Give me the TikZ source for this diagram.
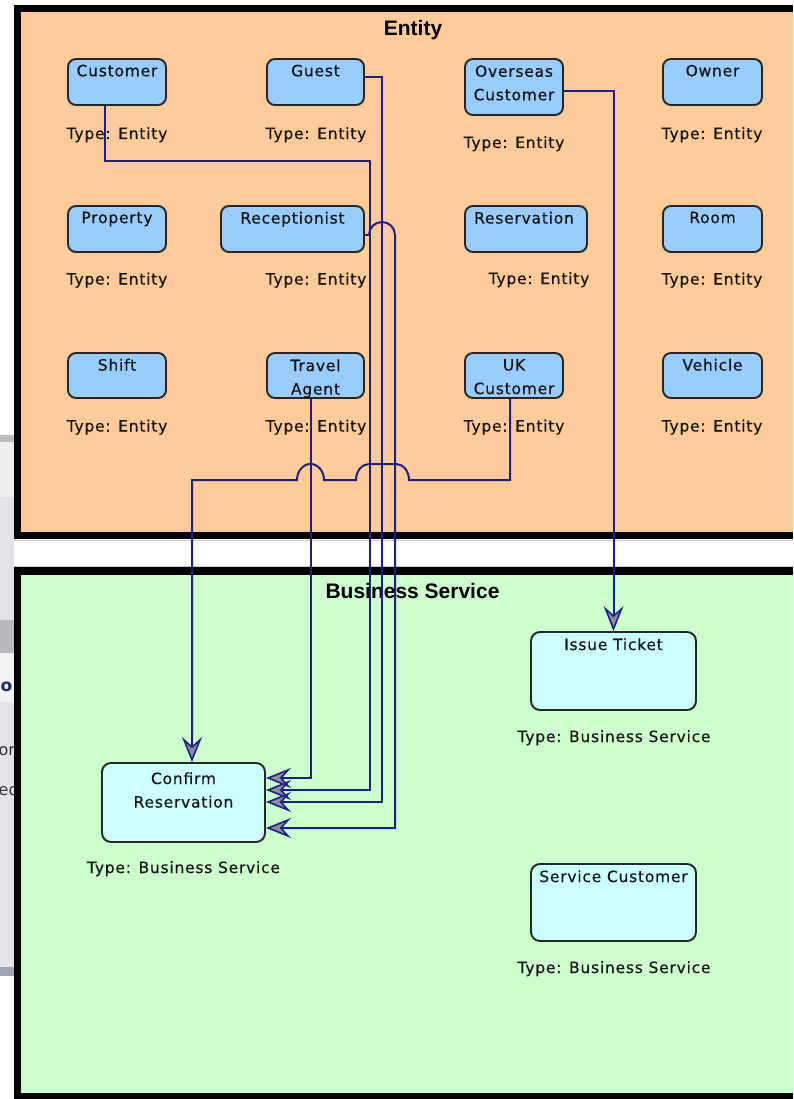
\documentclass[tikz,border=0pt]{standalone}
\usepackage{fontspec}
\setmainfont{DejaVu Sans}
\newfontfamily\lblfont[LetterSpace=5,FakeBold=0.4]{DejaVu Sans}
\newfontfamily\ttlfont{Liberation Sans}
\newfontfamily\uifont{DejaVu Sans}
\usetikzlibrary{arrows.meta,calc}

\definecolor{entfill}{HTML}{FFCC99}
\definecolor{bsfill}{HTML}{CCFFCC}
\definecolor{eboxfill}{HTML}{99CCFF}
\definecolor{sboxfill}{HTML}{CCFFFF}
\definecolor{navy}{HTML}{1E1E88}
\definecolor{arrgray}{HTML}{8C8C9C}
\definecolor{boxline}{HTML}{262626}
\definecolor{txt}{HTML}{141414}
\definecolor{uiA}{HTML}{BDBDBD}
\definecolor{uiB}{HTML}{EFEFEF}
\definecolor{uiC}{HTML}{E1E3E8}
\definecolor{uiD}{HTML}{B7B9BF}
\definecolor{uiE}{HTML}{F2F2F2}
\definecolor{uiF}{HTML}{E3E5EA}
\definecolor{uiG}{HTML}{9EA4B4}
\definecolor{uitext}{HTML}{1B2A6B}

\begin{document}
\begin{tikzpicture}[x=1pt,y=-1pt,
  ebox/.style={draw=boxline,line width=1.9pt,rounded corners=8pt,fill=eboxfill,inner sep=0pt},
  sbox/.style={draw=boxline,line width=1.9pt,rounded corners=9pt,fill=sboxfill,inner sep=0pt},
  btxt/.style={font=\lblfont\fontsize{15.5}{23.5}\selectfont,text=txt,inner sep=0pt,align=center,anchor=north},
  tlbl/.style={font=\lblfont\fontsize{15.5}{23.5}\selectfont,text=txt,inner sep=0pt,anchor=base},
  ttl/.style={font=\ttlfont\bfseries\fontsize{21}{24}\selectfont,text=black,inner sep=0pt,anchor=base},
  conn/.style={draw=navy,line width=2pt},
  arr/.style={-{Stealth[length=25pt,width=20pt,inset=9pt,fill=arrgray,line width=1.6pt]}}
]
\useasboundingbox (0,0) rectangle (793,1099);
\fill[white] (0,0) rectangle (793,1099);

% left strip (background window)
\fill[uiA] (0,435) rectangle (14,442);
\fill[uiB] (0,442) rectangle (14,497);
\fill[uiC] (0,497) rectangle (14,620);
\fill[uiD] (0,620) rectangle (14,653);
\fill[uiE] (0,653) rectangle (14,702);
\fill[uiF] (0,702) rectangle (14,967);
\fill[uiG] (0,967) rectangle (14,976);
\begin{scope}
\clip (0,0) rectangle (14,1099);
\node[font=\uifont\bfseries\fontsize{17}{20}\selectfont,text=uitext,inner sep=0pt,anchor=east] (uio) at (12.5,687) {o};
\node[font=\uifont\fontsize{16}{20}\selectfont,text=black!80,inner sep=0pt,anchor=west] (uior) at (-1.5,751) {or};
\node[font=\uifont\fontsize{16}{20}\selectfont,text=black!80,inner sep=0pt,anchor=west] (uied) at (-1.5,790) {ed};
\end{scope}

% frames
\fill[black] (14,5) rectangle (793,539);
\fill[entfill] (21,12) rectangle (793,532);
\fill[black] (14,567) rectangle (793,1099);
\fill[bsfill] (21,575) rectangle (793,1093);
\draw[black!20,line width=1pt] (14,540) -- (793,540);
\draw[black!20,line width=1pt] (14,566) -- (793,566);

\node[ttl] (enttitle) at (413,36) {Entity};
\node[ttl] (bstitle) at (412.5,598) {Business Service};

% entity boxes
\node[ebox,minimum width=98pt,minimum height=46pt] (cust) at (117,82) {};
\node[ebox,minimum width=97pt,minimum height=46pt] (guest) at (315.5,82) {};
\node[ebox,minimum width=98pt,minimum height=56pt] (over) at (514,87) {};
\node[ebox,minimum width=99pt,minimum height=46pt] (owner) at (712.5,82) {};
\node[ebox,minimum width=98pt,minimum height=46pt] (prop) at (117,229) {};
\node[ebox,minimum width=143pt,minimum height=46pt] (recep) at (292.5,229) {};
\node[ebox,minimum width=122pt,minimum height=46pt] (resv) at (526,229) {};
\node[ebox,minimum width=99pt,minimum height=46pt] (room) at (712.5,229) {};
\node[ebox,minimum width=98pt,minimum height=45pt] (shift) at (117,375.5) {};
\node[ebox,minimum width=97pt,minimum height=45pt] (trav) at (315.5,375.5) {};
\node[ebox,minimum width=98pt,minimum height=45pt] (uk) at (514,375.5) {};
\node[ebox,minimum width=99pt,minimum height=45pt] (veh) at (712.5,375.5) {};

\node[btxt] (custT) at ($(cust.north)+(0,6.5)$) {Customer};
\node[btxt] (guestT) at ($(guest.north)+(0,6.5)$) {Guest};
\node[btxt] (overT) at ($(over.north)+(0,7)$) {Overseas\\Customer};
\node[btxt] (ownerT) at ($(owner.north)+(0,6.5)$) {Owner};
\node[btxt] (propT) at ($(prop.north)+(0,6.5)$) {Property};
\node[btxt] (recepT) at ($(recep.north)+(0,6.5)$) {Receptionist};
\node[btxt] (resvT) at ($(resv.north)+(-2,6.5)$) {Reservation};
\node[btxt] (roomT) at ($(room.north)+(0,6.5)$) {Room};
\node[btxt] (shiftT) at ($(shift.north)+(0,6.5)$) {Shift};
\node[btxt] (travT) at ($(trav.north)+(0,7)$) {Travel\\Agent};
\node[btxt] (ukT) at ($(uk.north)+(0,7)$) {UK\\Customer};
\node[btxt] (vehT) at ($(veh.north)+(0,6.5)$) {Vehicle};

\node[tlbl] (custL) at (117,139) {Type: Entity};
\node[tlbl] (guestL) at (316,139) {Type: Entity};
\node[tlbl] (overL) at (514,148) {Type: Entity};
\node[tlbl] (ownerL) at (712,139) {Type: Entity};
\node[tlbl] (propL) at (117,284.5) {Type: Entity};
\node[tlbl] (recepL) at (316,284.5) {Type: Entity};
\node[tlbl] (resvL) at (539,284) {Type: Entity};
\node[tlbl] (roomL) at (712,284.5) {Type: Entity};
\node[tlbl] (shiftL) at (117,431.5) {Type: Entity};
\node[tlbl] (travL) at (316,431.5) {Type: Entity};
\node[tlbl] (ukL) at (514,431.5) {Type: Entity};
\node[tlbl] (vehL) at (712,431.5) {Type: Entity};

% business service boxes
\node[sbox,minimum width=165pt,minimum height=78pt] (issue) at (613.5,671) {};
\node[sbox,minimum width=165pt,minimum height=77pt] (serv) at (613.5,902.5) {};
\node[sbox,minimum width=163pt,minimum height=79pt] (conf) at (183.5,802.5) {};

\node[btxt] (issueT) at ($(issue.north)+(0,7)$) {Issue Ticket};
\node[btxt] (servT) at ($(serv.north)+(0,7)$) {Service Customer};
\node[btxt] (confT) at ($(conf.north)+(0,10)$) {Confirm\\Reservation};

\node[tlbl] (issueL) at (614,742) {Type: Business Service};
\node[tlbl] (servL) at (614,973) {Type: Business Service};
\node[tlbl] (confL) at (183.5,873) {Type: Business Service};

% connectors
\draw[conn,arr] ($(cust.south)+(-12,0)$) |- (370,161) |- ($(conf.east)+(0,-12.5)$);
\draw[conn,arr] ($(guest.east)+(0,-5)$) -- (382,77) |- ($(conf.east)+(0,-0.5)$);
\draw[conn,arr] ($(trav.south)+(-5,0)$) |- ($(conf.east)+(0,-24.5)$);
\draw[conn,arr] ($(recep.east)+(0,6)$) -- (369,235)
   arc[start angle=180,end angle=360,x radius=13,y radius=13]
   |- ($(conf.east)+(0,25.5)$);
\draw[conn,arr] ($(uk.south)+(-4,0)$) |- (409,480)
   arc[start angle=0,end angle=-90,x radius=13,y radius=16] -- (369,464)
   arc[start angle=-90,end angle=-180,x radius=13,y radius=16] -- (324,480)
   arc[start angle=0,end angle=-180,x radius=13.5,y radius=16]
   -| ($(conf.north)+(8.5,0)$);
\draw[conn,arr] ($(over.east)+(0,4)$) -| (issue.north);
\end{tikzpicture}
\end{document}
